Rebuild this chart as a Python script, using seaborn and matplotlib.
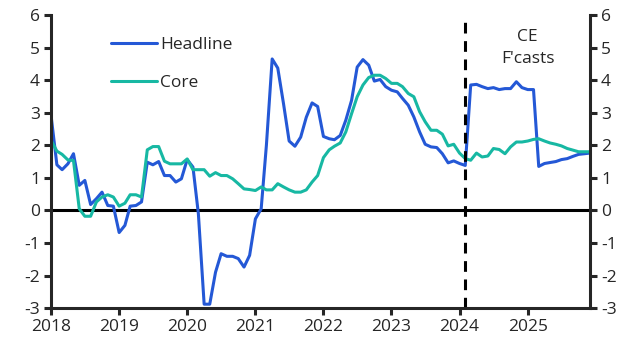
import numpy as np
import pandas as pd
import seaborn as sns
import matplotlib
matplotlib.use("Agg")
import matplotlib.pyplot as plt
import matplotlib.dates as mdates

# monthly, Jan 2018 - Dec 2025 (y/y %)
dates = pd.date_range("2018-01-01", periods=96, freq="MS")

headline = [2.9, 1.4, 1.25, 1.43, 1.74, 0.77, 0.92, 0.18, 0.36, 0.56, 0.15, 0.13,
            -0.68, -0.46, 0.13, 0.15, 0.26, 1.48, 1.4, 1.5, 1.07, 1.07, 0.87, 0.97,
            1.56, 1.33, -0.1, -2.88, -2.88, -1.9, -1.33, -1.41, -1.41, -1.48, -1.74, -1.38,
            -0.26, 0.05, 2.0, 4.65, 4.37, 3.27, 2.13, 1.97, 2.25, 2.86, 3.3, 3.19,
            2.27, 2.2, 2.17, 2.3, 2.77, 3.38, 4.4, 4.63, 4.46, 3.97, 4.02, 3.8,
            3.69, 3.64, 3.44, 3.23, 2.87, 2.41, 2.03, 1.95, 1.93, 1.74, 1.46, 1.52,
            1.44, 1.38, 3.85, 3.87, 3.8, 3.74, 3.77, 3.71, 3.74, 3.74, 3.95, 3.77,
            3.71, 3.71, 1.35, 1.44, 1.47, 1.5, 1.56, 1.59, 1.66, 1.72, 1.74, 1.76]

core = [2.15, 1.82, 1.72, 1.55, 1.53, 0.05, -0.18, -0.18, 0.26, 0.41, 0.48, 0.41,
        0.13, 0.22, 0.48, 0.48, 0.41, 1.86, 1.96, 1.96, 1.51, 1.43, 1.43, 1.43,
        1.58, 1.25, 1.25, 1.25, 1.05, 1.16, 1.07, 1.07, 0.97, 0.82, 0.66, 0.64,
        0.61, 0.72, 0.63, 0.63, 0.82, 0.72, 0.63, 0.56, 0.56, 0.63, 0.87, 1.07,
        1.62, 1.86, 1.97, 2.07, 2.41, 2.97, 3.49, 3.85, 4.08, 4.15, 4.15, 4.05,
        3.9, 3.9, 3.8, 3.59, 3.49, 3.03, 2.72, 2.46, 2.46, 2.34, 1.98, 2.03,
        1.76, 1.59, 1.54, 1.76, 1.64, 1.67, 1.9, 1.87, 1.74, 1.95, 2.1, 2.1,
        2.13, 2.18, 2.2, 2.13, 2.07, 2.03, 1.98, 1.9, 1.85, 1.8, 1.8, 1.8]

yticks = [-3, -2, -1, 0, 1, 2, 3, 4, 5, 6]
years = list(range(2018, 2026))
forecast_start = pd.Timestamp("2024-02-01")

df = pd.DataFrame({"date": np.concatenate([dates, dates]),
                   "value": headline + core,
                   "series": ["Headline"] * 96 + ["Core"] * 96})

sns.set_style("ticks")
plt.rcParams["font.family"] = ["Open Sans", "DejaVu Sans"]
plt.rcParams["font.size"] = 12.5
plt.rcParams["axes.unicode_minus"] = False

fig, ax = plt.subplots(figsize=(6.31, 3.57), dpi=100)
fig.subplots_adjust(left=0.081, right=0.935, top=0.958, bottom=0.137)

sns.lineplot(data=df, x="date", y="value", hue="series",
             palette={"Headline": "#2458d6", "Core": "#17b8a3"},
             linewidth=2.2, ax=ax)

ax.axhline(0, color="black", linewidth=2.2, zorder=1)
ax.axvline(forecast_start, color="black", linewidth=2.2, linestyle=(0, (3.5, 2.5)))

ax.set_xlim(dates[0], dates[-1])
ax.set_ylim(-3, 6)
ax.set_yticks(yticks)
ax.set_xticks([pd.Timestamp(f"{y}-01-01") for y in years])
ax.xaxis.set_major_formatter(mdates.DateFormatter("%Y"))
ax.set_xlabel("")
ax.set_ylabel("")

for s in ["top", "right"]:
    ax.spines[s].set_visible(False)
for s in ["left", "bottom"]:
    ax.spines[s].set_linewidth(2.2)
ax.tick_params(axis="both", direction="out", length=5, width=2.2, labelsize=12.5, pad=3)

ax2 = ax.twinx()
ax2.set_ylim(-3, 6)
ax2.set_yticks(yticks)
for s in ["top", "left", "bottom"]:
    ax2.spines[s].set_visible(False)
ax2.spines["right"].set_linewidth(2.2)
ax2.tick_params(axis="y", direction="out", length=5, width=2.2, labelsize=12.5, pad=3)

ax.legend(loc="upper left", bbox_to_anchor=(0.083, 0.98), frameon=False,
          handlelength=2.6, handletextpad=0.2, labelspacing=1.3, fontsize=12.5)

ax.text(pd.Timestamp("2025-01-01"), 5.0, "CE\nF'casts", ha="center", va="center",
        fontsize=12.5, linespacing=1.5)

fig.savefig("out.png", dpi=100)
